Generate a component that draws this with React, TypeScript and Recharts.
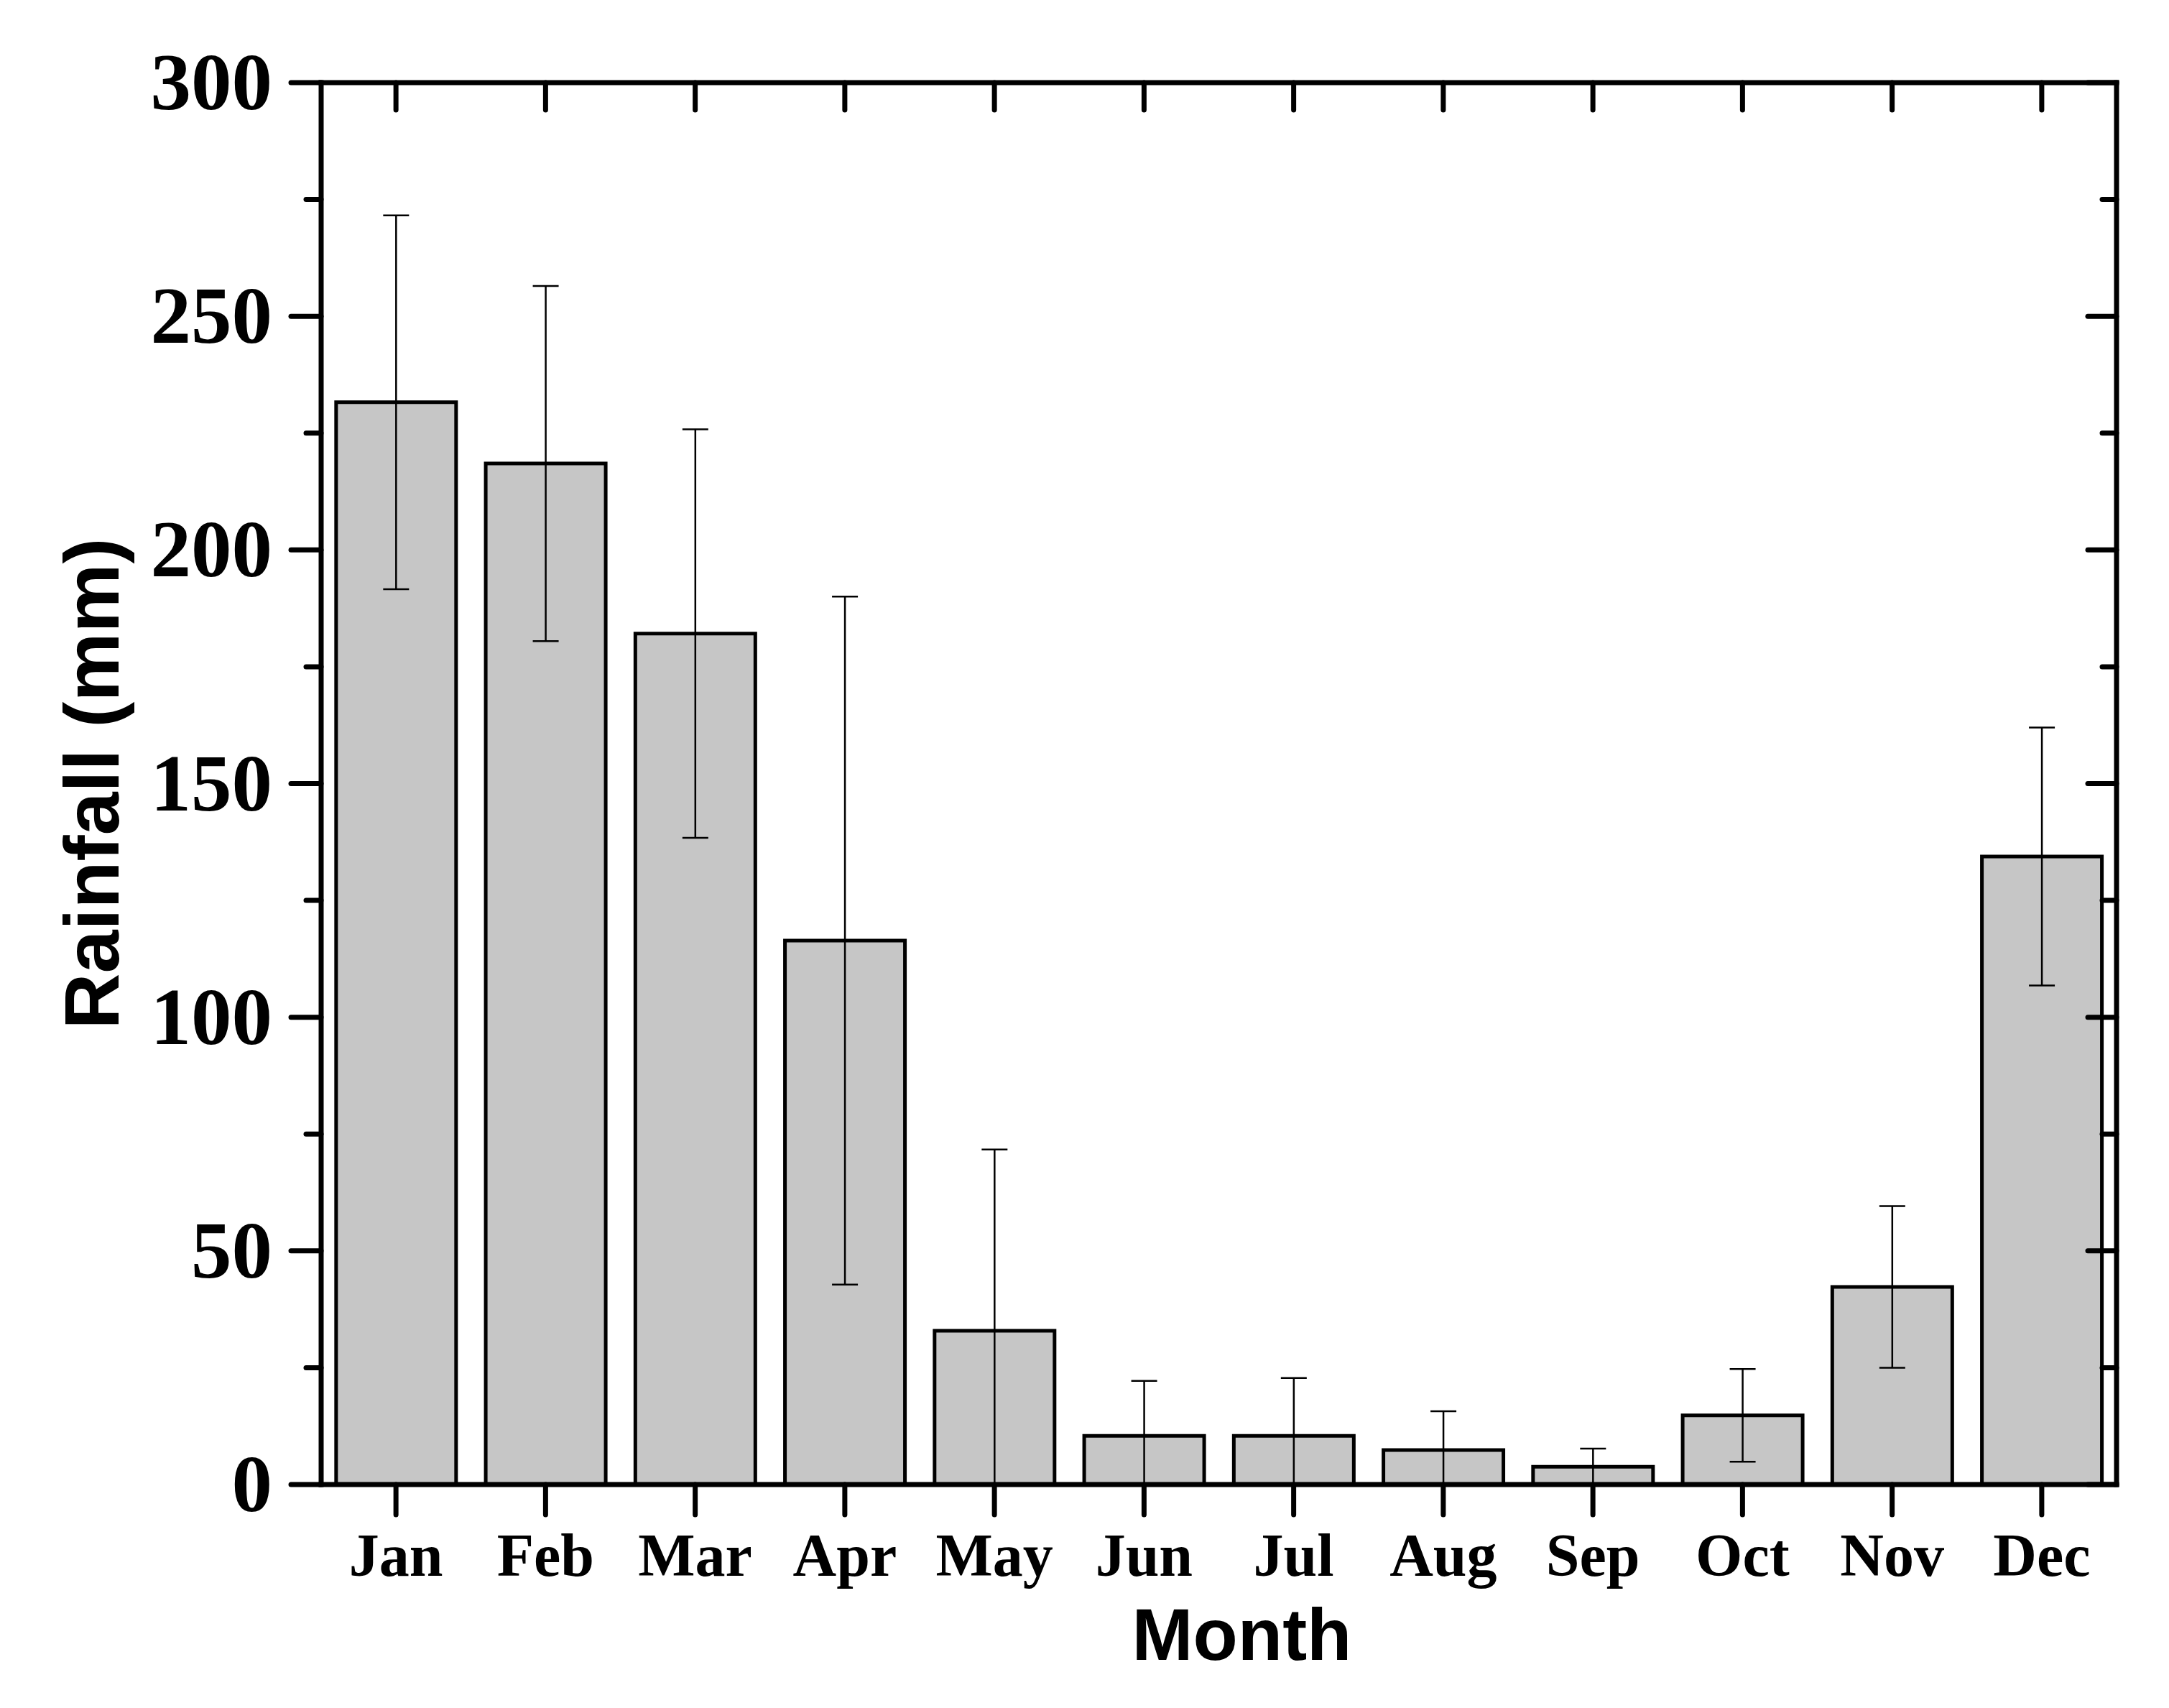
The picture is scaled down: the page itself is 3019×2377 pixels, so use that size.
import { BarChart, Bar, XAxis, YAxis, ErrorBar } from "recharts";

const MONTHS = ["Jan", "Feb", "Mar", "Apr", "May", "Jun", "Jul", "Aug", "Sep", "Oct", "Nov", "Dec"];
const RAINFALL = [231.6, 218.5, 182.1, 116.4, 32.9, 10.4, 10.4, 7.4, 3.8, 14.8, 42.3, 134.4];
const RAINFALL_SD = [40.0, 38.0, 43.7, 73.6, 38.8, 11.8, 12.4, 8.3, 3.9, 9.9, 17.3, 27.6];
const Y_TICKS = [0, 25, 50, 75, 100, 125, 150, 175, 200, 225, 250, 275, 300];

// lower whisker stops at the axis, like the original plot
const data = MONTHS.map((month, i) => ({
  month,
  rainfall: RAINFALL[i],
  err: [Math.min(RAINFALL_SD[i], RAINFALL[i]), RAINFALL_SD[i]],
}));

const SERIF = "'Liberation Serif', 'Times New Roman', serif";
const SANS = "'Liberation Sans', Arial, sans-serif";
const AXIS_LINE = { stroke: "#000", strokeWidth: 7, strokeLinecap: "square" as const };
const TICK_LINE = { stroke: "#000", strokeWidth: 7, strokeLinecap: "round" as const };

function LeftTick({ x, y, payload }: any) {
  const major = payload.value % 50 === 0;
  return (
    <g>
      <line x1={x - (major ? 42 : 21)} x2={x} y1={y} y2={y} {...TICK_LINE} />
      {major && (
        <text x={x - 68} y={y + 37} textAnchor="end" fontFamily={SERIF} fontWeight="bold" fontSize={113} fill="#000">
          {payload.value}
        </text>
      )}
    </g>
  );
}

function RightTick({ x, y, payload }: any) {
  const major = payload.value % 50 === 0;
  return <line x1={x - (major ? 40 : 20)} x2={x} y1={y} y2={y} {...TICK_LINE} />;
}

function TopTick({ x, y }: any) {
  return <line x1={x} x2={x} y1={y} y2={y + 38} {...TICK_LINE} />;
}

function MonthTick({ x, y, payload }: any) {
  return (
    <text x={x} y={y + 85} textAnchor="middle" fontFamily={SERIF} fontWeight="bold" fontSize={84} fill="#000">
      {payload.value}
    </text>
  );
}

function monthLabel({ viewBox }: any) {
  const cx = viewBox.x + viewBox.width / 2 + 32;
  return (
    <text x={cx} y={viewBox.y + 244} textAnchor="middle" fontFamily={SANS} fontWeight="bold" fontSize={102} fill="#000">
      Month
    </text>
  );
}

function rainfallLabel({ viewBox }: any) {
  const cx = viewBox.x + 165;
  const cy = viewBox.y + viewBox.height / 2;
  return (
    <text
      x={cx}
      y={cy}
      transform={`rotate(-90 ${cx} ${cy})`}
      textAnchor="middle"
      fontFamily={SANS}
      fontWeight="bold"
      fontSize={108}
      fill="#000"
    >
      Rainfall (mm)
    </text>
  );
}

export default function App() {
  return (
    <div style={{ position: "absolute", left: 0, top: 0, background: "#fff" }}>
      <BarChart
        width={3019}
        height={2377}
        data={data}
        margin={{ top: 114, right: 72, left: 0, bottom: 0 }}
        barCategoryGap="10%"
      >
        <Bar
          dataKey="rainfall"
          fill="#c6c6c6"
          stroke="#000"
          strokeWidth={5}
          isAnimationActive={false}
        >
          <ErrorBar dataKey="err" width={18} stroke="#000" strokeWidth={2.5} isAnimationActive={false} />
        </Bar>
        <XAxis
          dataKey="month"
          height={311}
          axisLine={AXIS_LINE}
          tickLine={TICK_LINE}
          tickSize={42}
          tickMargin={0}
          tick={<MonthTick />}
          interval={0}
          label={monthLabel}
        />
        <XAxis
          xAxisId="top"
          dataKey="month"
          orientation="top"
          height={1}
          axisLine={AXIS_LINE}
          tickLine={false}
          tickSize={0}
          tickMargin={0}
          tick={<TopTick />}
          interval={0}
        />
        <YAxis
          width={447}
          domain={[0, 300]}
          ticks={Y_TICKS}
          interval={0}
          axisLine={AXIS_LINE}
          tickLine={false}
          tickSize={0}
          tickMargin={0}
          tick={<LeftTick />}
          label={rainfallLabel}
        />
        <YAxis
          yAxisId="right"
          orientation="right"
          width={1}
          domain={[0, 300]}
          allowDataOverflow
          ticks={Y_TICKS}
          interval={0}
          axisLine={AXIS_LINE}
          tickLine={false}
          tickSize={0}
          tickMargin={0}
          tick={<RightTick />}
        />
      </BarChart>
    </div>
  );
}
